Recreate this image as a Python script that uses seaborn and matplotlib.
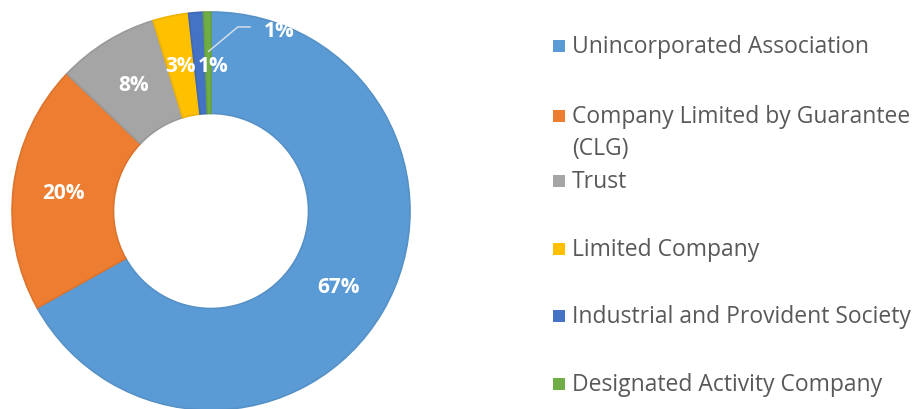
import matplotlib
matplotlib.use("Agg")
import matplotlib.pyplot as plt
from matplotlib.patches import Rectangle
import numpy as np
import seaborn as sns

# Legal structure of organisations (share of total, %)
categories = [
    "Unincorporated Association",
    "Company Limited by Guarantee\n(CLG)",
    "Trust",
    "Limited Company",
    "Industrial and Provident Society",
    "Designated Activity Company",
]
shares = [66.9, 20.2, 8.2, 2.9, 1.2, 0.6]

sns.set_theme(style="white")
plt.rcParams["font.family"] = ["Open Sans", "DejaVu Sans"]

colors = sns.color_palette(["#5B9BD5", "#ED7D31", "#A5A5A5", "#FFC000", "#4472C4", "#70AD47"])

W, H = 922, 410
fig = plt.figure(figsize=(W / 100, H / 100), dpi=100)
fig.patch.set_facecolor("white")

# Donut axes: centre (211, 212) px, outer radius 199 px
cx, cy, R = 211, 212, 199
ax = fig.add_axes([(cx - R) / W, (H - cy - R) / H, 2 * R / W, 2 * R / H])

wedges, _ = ax.pie(
    shares,
    colors=colors,
    startangle=90,
    counterclock=False,
    radius=1.0,
    wedgeprops=dict(width=0.51),
)
for w, c in zip(wedges, colors):
    w.set_edgecolor(tuple(min(1, v * 0.93) for v in c))
    w.set_linewidth(1.2)

ax.set_xlim(-1, 1)
ax.set_ylim(-1, 1)
ax.set_aspect("equal")
ax.axis("off")

label_r = 0.745
lab_kw = dict(color="white", fontsize=15, fontweight="bold", ha="center", va="center")
n = len(shares)
for i, (w, v) in enumerate(zip(wedges, shares)):
    mid = np.deg2rad((w.theta1 + w.theta2) / 2)
    txt = f"{v:.0f}%"
    if i == n - 1:
        # smallest slice: label pulled out with a leader line
        sx, sy = 0.80 * np.cos(mid), 0.80 * np.sin(mid)
        ax.plot([sx, 0.135, 0.20], [sy, 0.925, 0.925], color="#dde3ea", lw=1.0,
                solid_capstyle="butt")
        ax.text(0.345, 0.905, txt, **lab_kw)
    elif i == n - 2:
        ax.text(0.01, 0.73, txt, **lab_kw)
    else:
        ax.text(label_r * np.cos(mid), label_r * np.sin(mid), txt, **lab_kw)

# Legend column on the right
legend_rows = [47, 117, 182, 250, 317, 385]
line_gap = 32
for name, c, y in zip(categories, colors, legend_rows):
    fig.patches.append(Rectangle((553 / W, 1 - (y + 6) / H), 12 / W, 12 / H,
                                 transform=fig.transFigure, facecolor=c,
                                 edgecolor="none"))
    for k, line in enumerate(name.split("\n")):
        fig.text(572 / W, 1 - (y + k * line_gap) / H, line, fontsize=16.5,
                 color="#595959", ha="left", va="center")

fig.savefig("out.png", dpi=100, facecolor="white")
